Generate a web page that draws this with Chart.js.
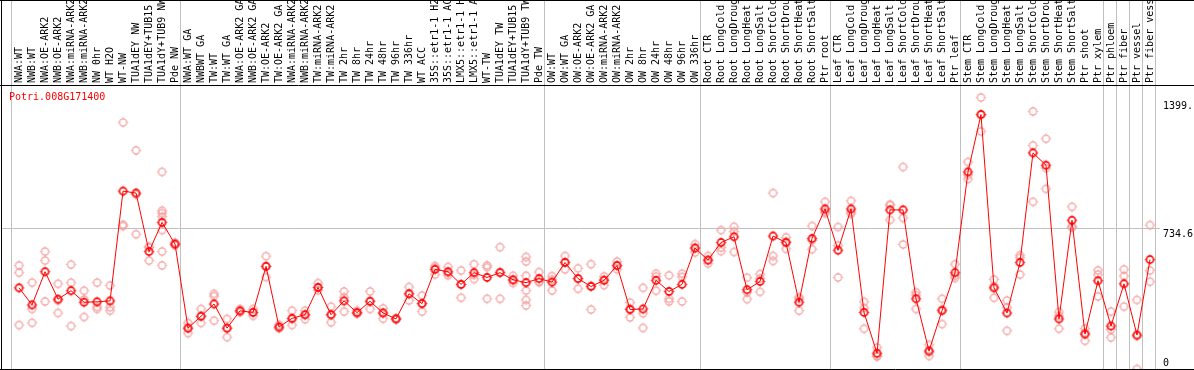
<!DOCTYPE html>
<html>
<head>
<meta charset="utf-8">
<script src="https://cdn.jsdelivr.net/npm/chart.js@4.4.1/dist/chart.umd.min.js"></script>
<style>
  html, body { margin: 0; padding: 0; background: #fff; }
  #wrap { position: relative; width: 1194px; height: 370px; }
  #gene { position: absolute; left: 9px; top: 91px; font: 10px/12px "DejaVu Sans Mono", monospace; color: #f00; }
</style>
</head>
<body>
<div id="wrap">
  <canvas id="exprChart" width="1194" height="370"></canvas>
  <div id="gene">Potri.008G171400</div>
</div>
<script>
// sample names, as printed (already cut to 14 characters)
const sampleLabels = [
  'NWA:WT', 'NWB:WT', 'NWA:OE-ARK2', 'NWB:OE-ARK2', 'NWA:miRNA-ARK2', 'NWB:miRNA-ARK2',
  'NW 0hr', 'WT H2O', 'WT-NW', 'TUA1dEY NW', 'TUA1dEY+TUB15', 'TUA1dY+TUB9 NW', 'Pde NW',
  'NWA:WT GA', 'NWBWT GA', 'TW:WT', 'TW:WT GA', 'NWA:OE-ARK2 GA', 'NWB:OE-ARK2 GA',
  'TW:OE-ARK2', 'TW:OE-ARK2 GA', 'NWA:miRNA-ARK2', 'NWB:miRNA-ARK2', 'TW:miRNA-ARK2',
  'TW:miRNA-ARK2', 'TW 2hr', 'TW 8hr', 'TW 24hr', 'TW 48hr', 'TW 96hr', 'TW 336hr',
  'WT ACC', '35S::etr1-1 H2', '35S::etr1-1 AC', 'LMX5::etr1-1 H', 'LMX5::etr1-1 A',
  'WT-TW', 'TUA1dEY TW', 'TUA1dEY+TUB15', 'TUA1dY+TUB9 TW', 'Pde TW',
  'OW:WT', 'OW:WT GA', 'OW:OE-ARK2', 'OW:OE-ARK2 GA', 'OW:miRNA-ARK2', 'OW:miRNA-ARK2',
  'OW 2hr', 'OW 8hr', 'OW 24hr', 'OW 48hr', 'OW 96hr', 'OW 336hr',
  'Root CTR', 'Root LongCold', 'Root LongDroug', 'Root LongHeat', 'Root LongSalt',
  'Root ShortCold', 'Root ShortDrou', 'Root ShortHeat', 'Root ShortSalt', 'Ptr root',
  'Leaf CTR', 'Leaf LongCold', 'Leaf LongDroug', 'Leaf LongHeat', 'Leaf LongSalt',
  'Leaf ShortCold', 'Leaf ShortDrou', 'Leaf ShortHeat', 'Leaf ShortSalt', 'Ptr leaf',
  'Stem CTR', 'Stem LongCold', 'Stem LongDroug', 'Stem LongHeat', 'Stem LongSalt',
  'Stem ShortCold', 'Stem ShortDrou', 'Stem ShortHeat', 'Stem ShortSalt', 'Ptr shoot',
  'Ptr xylem', 'Ptr phloem', 'Ptr fiber', 'Ptr vessel', 'Ptr fiber vess'
];

// mean expression per sample (the red line)
const meanValues = [
  423, 334, 507, 364, 408, 348, 350, 355, 927, 917, 612, 764, 651,
  213, 275, 339, 213, 303, 295, 535, 219, 264, 283, 425, 283, 355, 294, 353,
  292, 261, 392, 341, 519, 507, 441, 502, 477, 502, 465, 450, 471,
  453, 555, 471, 430, 462, 539, 310, 313, 462, 404, 441, 630,
  568, 659, 689, 413, 456, 693, 659, 348, 680, 834,
  619, 834, 295, 82, 829, 829, 366, 94, 304, 502,
  1027, 1326, 423, 292, 555, 1126, 1062, 261, 775, 182, 460,
  224, 444, 177, 570
];

// single replicates per sample (the pale circles)
const replicateValues = [
  [540, 502, 229], [450, 313, 241], [612, 565, 352], [444, 292, 356], [544, 450, 224],
  [408, 362, 271], [450, 324, 313], [435, 322, 304], [1285, 752, 745], [1139, 910, 702],
  [637, 634, 565], [1027, 825, 812, 794, 724, 612, 540], [658, 650, 645],
  [240, 213, 187], [313, 275, 240], [392, 380, 252], [261, 213, 166], [313, 300, 296],
  [313, 295, 277], [588, 535, 479], [230, 215, 212], [304, 260, 229], [304, 283, 259],
  [448, 425, 410], [325, 283, 243], [404, 374, 299], [304, 290, 288], [404, 353, 313],
  [316, 292, 262], [265, 260, 258], [427, 392, 357], [383, 341, 299], [537, 528, 492],
  [532, 500, 488], [513, 441, 371], [546, 490, 469], [540, 530, 366], [635, 505, 366],
  [486, 462, 448], [584, 560, 486, 409, 360, 331], [505, 455, 453],
  [484, 466, 409], [589, 557, 519], [525, 471, 418], [546, 434, 310], [483, 466, 437],
  [560, 540, 520], [346, 315, 269], [423, 290, 214], [497, 482, 408], [488, 366, 352],
  [497, 480, 352], [651, 632, 607],
  [589, 566, 549], [724, 633, 614], [741, 716, 610], [476, 399, 364], [495, 471, 402],
  [917, 589, 563], [686, 665, 626], [374, 366, 304], [745, 671, 624], [871, 812, 819],
  [740, 644, 477], [876, 817, 809], [350, 318, 210], [112, 69, 65], [855, 855, 777],
  [1053, 787, 649], [400, 385, 313], [126, 88, 68], [366, 312, 234], [546, 486, 474],
  [1079, 1012, 990], [1415, 1325, 1238], [467, 431, 371], [357, 320, 199], [593, 580, 492],
  [1342, 1165, 871], [1200, 1047, 939], [297, 276, 210], [845, 741, 739], [211, 188, 147],
  [514, 492, 378], [299, 206, 164], [519, 484, 325], [360, 171, 0], [750, 513, 455]
];

// first sample index of every experiment block (last entry closes the chart)
const groupStarts = [0, 13, 41, 53, 63, 73, 84, 85, 86, 87, 88];

const yTickValues = [0, 734.6, 1399];
const yTickLabels = ['0', '734.6', '1399.'];

const monoFont = { family: '"DejaVu Sans Mono", monospace', size: 10, lineHeight: 1.2 };

// circle with four small notches, like the original plot symbol
function makeMarker(color, width) {
  const c = document.createElement('canvas');
  c.width = 13;
  c.height = 13;
  const g = c.getContext('2d');
  g.strokeStyle = color;
  g.fillStyle = color;
  g.lineWidth = width;
  g.beginPath();
  g.arc(6.5, 6.5, 3.6, 0, Math.PI * 2);
  g.stroke();
  g.fillRect(6, 1.5, 1, 1.2);
  g.fillRect(6, 10.3, 1, 1.2);
  g.fillRect(1.5, 6, 1.2, 1);
  g.fillRect(10.3, 6, 1.2, 1);
  return c;
}

const meanPoints = meanValues.map((v, i) => ({ x: i, y: v }));
const replicatePoints = [];
replicateValues.forEach((reps, i) => {
  reps.forEach(v => replicatePoints.push({ x: i, y: v }));
});

// grey block separators (full height) and the black frame
const groupLines = {
  id: 'groupLines',
  beforeDatasetsDraw(chart) {
    const { ctx, chartArea } = chart;
    const xScale = chart.scales.x;
    ctx.save();
    ctx.strokeStyle = '#c0c0c0';
    ctx.lineWidth = 1;
    groupStarts.forEach(s => {
      const px = Math.floor(xScale.getPixelForValue(s - 0.5)) - 0.5;
      ctx.beginPath();
      ctx.moveTo(px, 0);
      ctx.lineTo(px, chartArea.bottom);
      ctx.stroke();
    });
    ctx.restore();
  },
  afterDraw(chart) {
    const { ctx, chartArea, width, height } = chart;
    ctx.save();
    ctx.strokeStyle = '#000';
    ctx.lineWidth = 1;
    ctx.beginPath();
    ctx.moveTo(0, 0.5); ctx.lineTo(width, 0.5);
    ctx.moveTo(0, chartArea.top + 0.5); ctx.lineTo(width, chartArea.top + 0.5);
    ctx.moveTo(0, chartArea.bottom + 0.5); ctx.lineTo(width, chartArea.bottom + 0.5);
    ctx.moveTo(1.5, 0); ctx.lineTo(1.5, height);
    ctx.stroke();
    ctx.restore();
  }
};

function noEdgePadding(scale) {
  scale.paddingLeft = 0;
  scale.paddingRight = 0;
  scale.paddingTop = 0;
  scale.paddingBottom = 0;
}

new Chart(document.getElementById('exprChart'), {
  type: 'scatter',
  data: {
    datasets: [
      {
        data: meanPoints,
        showLine: true,
        borderColor: '#ff0000',
        borderWidth: 1,
        pointStyle: makeMarker('#ff0000', 1.6),
        pointRadius: 4,
        pointHitRadius: 0
      },
      {
        data: replicatePoints,
        pointStyle: makeMarker('#f29c9c', 1.2),
        pointRadius: 4,
        pointHitRadius: 0
      }
    ]
  },
  options: {
    responsive: false,
    animation: false,
    events: [],
    layout: { autoPadding: false, padding: { left: 1.5, right: 0, top: 0, bottom: 1 } },
    plugins: {
      legend: { display: false },
      tooltip: { enabled: false }
    },
    scales: {
      x: {
        type: 'linear',
        position: 'top',
        min: -1.35,
        max: 87.77,
        afterBuildTicks: scale => {
          scale.ticks = sampleLabels.map((_, i) => ({ value: i }));
        },
        afterFit: scale => {
          scale.height = 85;
          noEdgePadding(scale);
        },
        grid: { display: false, drawTicks: false },
        border: { display: false },
        ticks: {
          autoSkip: false,
          minRotation: 90,
          maxRotation: 90,
          padding: 2,
          labelOffset: 12,
          color: '#000',
          font: monoFont,
          callback: value => sampleLabels[value]
        }
      },
      y: {
        type: 'linear',
        position: 'right',
        min: 0,
        max: 1480,
        afterBuildTicks: scale => {
          scale.ticks = yTickValues.map(v => ({ value: v }));
        },
        afterFit: scale => {
          scale.width = 34;
          noEdgePadding(scale);
        },
        grid: {
          drawTicks: false,
          color: ctx => (ctx.tick && ctx.tick.value === 734.6 ? '#c0c0c0' : 'rgba(0,0,0,0)'),
          lineWidth: 1
        },
        border: { display: false },
        ticks: {
          padding: 3,
          color: '#000',
          font: monoFont,
          callback: value => {
            const label = yTickLabels[yTickValues.indexOf(value)];
            return value === 0 ? [label, ''] : ['', label];
          }
        }
      }
    }
  },
  plugins: [groupLines]
});
</script>
</body>
</html>
